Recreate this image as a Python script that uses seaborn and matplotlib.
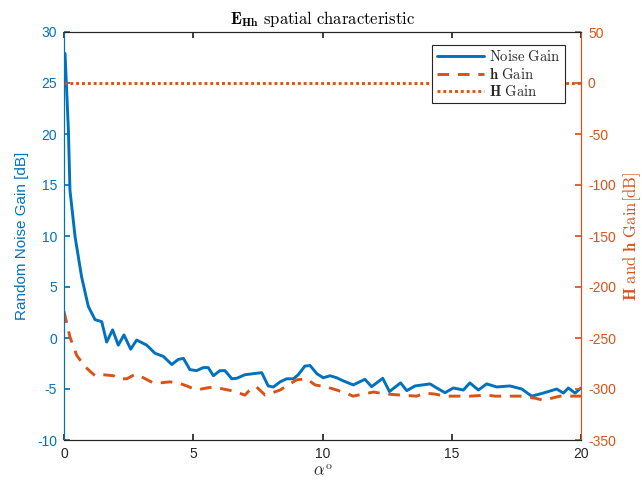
import numpy as np
import pandas as pd
import matplotlib
matplotlib.use("Agg")
import matplotlib.pyplot as plt
import seaborn as sns
from matplotlib.lines import Line2D

# ---- data ----
noise_alpha = [0.0, 0.04, 0.17, 0.23, 0.43, 0.68, 0.94, 1.2, 1.46, 1.65, 1.88, 2.1, 2.32, 2.58, 2.81,
               3.2, 3.52, 3.84, 4.17, 4.42, 4.62, 4.87, 5.13, 5.39, 5.58, 5.78, 6.03, 6.23, 6.49,
               6.68, 7.0, 7.32, 7.65, 7.9, 8.1, 8.36, 8.61, 8.87, 9.06, 9.32, 9.52, 9.78, 10.03,
               10.29, 10.55, 10.8, 11.19, 11.64, 11.9, 12.33, 12.59, 13.02, 13.26, 13.58, 14.16,
               14.42, 14.74, 15.06, 15.45, 15.7, 16.03, 16.35, 16.74, 17.25, 17.71, 18.09, 18.54,
               19.06, 19.32, 19.51, 19.77, 20.0]
noise_gain = [27.8, 27.9, 20.4, 14.5, 9.9, 6.0, 3.1, 1.8, 1.6, -0.4, 0.8, -0.7, 0.3, -1.1, -0.2,
              -0.7, -1.5, -1.8, -2.6, -2.1, -2.0, -3.1, -3.2, -2.9, -2.9, -3.7, -3.2, -3.2, -4.0,
              -3.95, -3.6, -3.5, -3.4, -4.7, -4.8, -4.3, -4.0, -4.0, -3.6, -2.75, -2.7, -3.5, -3.9,
              -3.7, -3.9, -4.2, -4.6, -4.05, -4.77, -3.95, -5.25, -4.4, -5.16, -4.7, -4.5,
              -4.9, -5.36, -4.9, -5.1, -4.4, -5.1, -4.5, -4.8, -4.7, -5.0, -5.7, -5.4,
              -5.0, -5.4, -4.9, -5.4, -4.9]

h_alpha = [0.0, 0.23, 0.49, 0.81, 1.2, 1.52, 1.91, 2.17, 2.43, 2.75, 3.07, 3.45, 3.71, 4.1, 4.42,
           4.75, 5.13, 5.52, 5.78, 6.16, 6.55, 7.0, 7.26, 7.45, 7.78, 8.03, 8.36, 8.68, 9.0, 9.39,
           9.71, 10.16, 10.55, 11.0, 11.18, 11.97, 12.48, 13.06, 13.64, 13.97, 14.35, 14.74,
           15.45, 15.71, 16.35, 16.67, 17.32, 17.64, 18.22, 18.54, 19.19, 19.57, 20.0]
h_gain = [-224, -249, -267, -278, -287, -286, -287, -290, -290, -285.6, -289, -294, -294, -293, -294,
          -297, -301, -299, -298, -300, -302, -306, -299, -298, -306, -304, -301, -296, -291, -290,
          -296, -298, -301, -305, -307, -303, -305, -306, -307, -304, -305, -307,
          -307, -307, -306, -307, -307, -307, -309, -311, -307, -307, -307]

H_alpha = [0.0, 20.0]
H_gain = [0.0, 0.0]

x_ticks = [0, 5, 10, 15, 20]
left_ticks = [-10, -5, 0, 5, 10, 15, 20, 25, 30]
right_ticks = [-350, -300, -250, -200, -150, -100, -50, 0, 50]

BLUE = "#0072BD"
ORANGE = "#D95319"
DARK = "#262626"

sns.set_theme(style="white")
plt.rcParams["font.family"] = ["Liberation Sans", "DejaVu Sans"]
plt.rcParams["mathtext.fontset"] = "cm"
plt.rcParams["axes.unicode_minus"] = False

fig = plt.figure(figsize=(6.42, 4.93), dpi=100)
ax1 = fig.add_axes([64 / 642, 1 - 440 / 493, (581 - 64) / 642, (440 - 32) / 493])
ax2 = ax1.twinx()

df_n = pd.DataFrame({"alpha": noise_alpha, "gain": noise_gain})
df_h = pd.DataFrame({"alpha": h_alpha, "gain": h_gain})
df_H = pd.DataFrame({"alpha": H_alpha, "gain": H_gain})

sns.lineplot(data=df_n, x="alpha", y="gain", ax=ax1, color=BLUE, lw=2.1, sort=False)
sns.lineplot(data=df_h, x="alpha", y="gain", ax=ax2, color=ORANGE, lw=2.1,
             linestyle=(0, (4, 3)), sort=False)
sns.lineplot(data=df_H, x="alpha", y="gain", ax=ax2, color=ORANGE, lw=2.1,
             linestyle=(0, (1, 1)), sort=False)

ax1.set_xlim(0, 20)
ax1.set_ylim(-10, 30)
ax2.set_ylim(-350, 50)
ax1.set_xticks(x_ticks)
ax1.set_yticks(left_ticks)
ax2.set_yticks(right_ticks)
ax1.set_xticklabels([str(t) for t in x_ticks], fontsize=10, color=DARK)
ax1.set_yticklabels([str(t) for t in left_ticks], fontsize=10, color=BLUE)
ax2.set_yticklabels([str(t) for t in right_ticks], fontsize=10, color=ORANGE)

ax1.tick_params(axis="x", direction="in", length=4, color=DARK, top=True, bottom=True, pad=5)
ax1.tick_params(axis="y", direction="in", length=4, color=BLUE, left=True, right=False, pad=5)
ax2.tick_params(axis="y", direction="in", length=4, color=ORANGE, left=False, right=True, pad=5)
ax2.tick_params(axis="x", top=False, bottom=False)

for ax in (ax1, ax2):
    ax.spines["top"].set_color(DARK)
    ax.spines["bottom"].set_color(DARK)
    ax.spines["left"].set_color(BLUE)
    ax.spines["right"].set_color(ORANGE)
    for s in ax.spines.values():
        s.set_linewidth(0.8)
    ax.grid(False)

ax1.set_xlabel(r"$\alpha^{\mathrm{o}}$", fontsize=12, color=DARK, labelpad=2)
ax1.set_ylabel("Random Noise Gain [dB]", fontsize=11, color=BLUE, labelpad=6)
ax2.set_ylabel(r"$\mathbf{H}\ \mathrm{and}\ \mathbf{h}\ \mathrm{Gain[dB]}$", fontsize=12,
               color=ORANGE, labelpad=4)
ax1.set_title(r"$\mathbf{E}_{\mathbf{Hh}}\ \mathrm{spatial\ characteristic}$", fontsize=12,
              color="black", pad=6)

handles = [Line2D([], [], color=BLUE, lw=2.1),
           Line2D([], [], color=ORANGE, lw=2.1, linestyle=(0, (4, 3))),
           Line2D([], [], color=ORANGE, lw=2.1, linestyle=(0, (1, 1)))]
labels = [r"$\mathrm{Noise\ Gain}$", r"$\mathbf{h}\ \mathrm{Gain}$", r"$\mathbf{H}\ \mathrm{Gain}$"]
leg = ax2.legend(handles, labels, loc="upper right", bbox_to_anchor=(0.975, 0.975),
                 fontsize=10.5, frameon=True, fancybox=False, framealpha=1,
                 edgecolor=DARK, borderpad=0.3, labelspacing=0.15, handlelength=3.2,
                 handletextpad=0.4, borderaxespad=0.2)
leg.get_frame().set_linewidth(0.8)

fig.savefig("out.png", dpi=100)
